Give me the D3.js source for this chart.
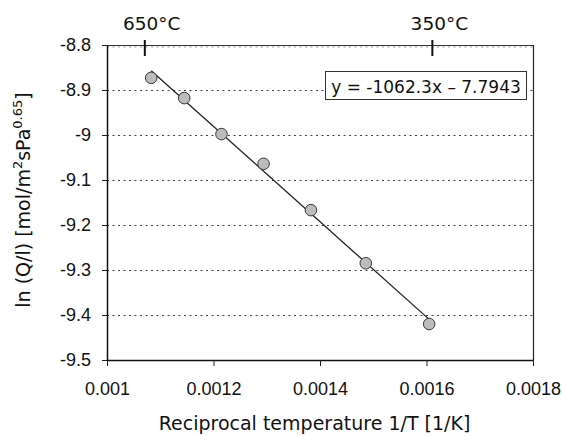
<!DOCTYPE html>
<html>
<head>
<meta charset="utf-8">
<script src="https://cdn.jsdelivr.net/npm/d3@7"></script>
<style>
  html, body { margin: 0; padding: 0; background: #fff; }
  svg { display: block; }
</style>
</head>
<body>
<svg id="chart" width="562" height="436"></svg>
<script>
// Measured permeation: reciprocal temperature vs ln(Q/l)
const reciprocalT = [0.001083, 0.001145, 0.001215, 0.001294, 0.001383, 0.001486, 0.001605];
const lnFlux = [-8.873, -8.918, -8.998, -9.064, -9.167, -9.285, -9.420];

// Axis ticks
const xTicks = [0.001, 0.0012, 0.0014, 0.0016, 0.0018];
const xTickLabels = ["0.001", "0.0012", "0.0014", "0.0016", "0.0018"];
const yTicks = [-8.8, -8.9, -9.0, -9.1, -9.2, -9.3, -9.4, -9.5];
const yTickLabels = ["-8.8", "-8.9", "-9", "-9.1", "-9.2", "-9.3", "-9.4", "-9.5"];

// Secondary temperature markers along the top edge
const tempTicks = [0.001071, 0.001611];
const tempLabels = ["650°C", "350°C"];

const equationText = "y = -1062.3x \u2013 7.7943";

const svg = d3.select("#chart");
const plot = { left: 107, right: 533, top: 45, bottom: 360 };

const x = d3.scaleLinear().domain([0.001, 0.0018]).range([plot.left, plot.right]);
const y = d3.scaleLinear().domain([-9.5, -8.8]).range([plot.bottom, plot.top]);

const sansTahoma = "'DejaVu Sans', Verdana, sans-serif";
const sansArial = "'Liberation Sans', Arial, sans-serif";

// Dotted horizontal gridlines
svg.append("g")
  .selectAll("line")
  .data(yTicks.filter(v => v > -9.5))
  .join("line")
  .attr("x1", plot.left).attr("x2", plot.right)
  .attr("y1", d => Math.round(y(d)) + 0.5 + (d === -8.8 ? 1.5 : 0))
  .attr("y2", d => Math.round(y(d)) + 0.5 + (d === -8.8 ? 1.5 : 0))
  .attr("stroke", d => d === -8.8 ? "#9a9a9a" : "#444")
  .attr("stroke-width", 1)
  .attr("stroke-dasharray", "2,3.5");

// Frame: top and right edges
svg.append("line")
  .attr("x1", plot.left).attr("x2", plot.right)
  .attr("y1", plot.top + 0.5).attr("y2", plot.top + 0.5)
  .attr("stroke", "#333").attr("stroke-width", 1);
svg.append("line")
  .attr("x1", plot.right + 0.5).attr("x2", plot.right + 0.5)
  .attr("y1", plot.top).attr("y2", plot.bottom)
  .attr("stroke", "#222").attr("stroke-width", 1.2);

// Bottom axis
const xAxis = d3.axisBottom(x)
  .tickValues(xTicks)
  .tickFormat((d, i) => xTickLabels[i])
  .tickSizeInner(6).tickSizeOuter(0).tickPadding(16);
const gx = svg.append("g")
  .attr("transform", `translate(0,${plot.bottom})`)
  .call(xAxis);
gx.select(".domain").attr("stroke", "#111").attr("stroke-width", 1.5);
gx.selectAll(".tick line").attr("stroke", "#222").attr("stroke-width", 1);
gx.selectAll(".tick text")
  .attr("font-family", sansArial).attr("font-size", 18).attr("fill", "#111");

// Left axis
const yAxis = d3.axisLeft(y)
  .tickValues(yTicks)
  .tickFormat((d, i) => yTickLabels[i])
  .tickSizeInner(5).tickSizeOuter(0).tickPadding(11);
const gy = svg.append("g")
  .attr("transform", `translate(${plot.left},0)`)
  .call(yAxis);
gy.select(".domain").attr("stroke", "#111").attr("stroke-width", 1.5);
gy.selectAll(".tick line").attr("stroke", "#222").attr("stroke-width", 1);
gy.selectAll(".tick text")
  .attr("font-family", sansArial).attr("font-size", 18).attr("fill", "#111");

// Temperature markers on the top edge
const gt = svg.append("g");
gt.selectAll("line")
  .data(tempTicks)
  .join("line")
  .attr("x1", d => x(d)).attr("x2", d => x(d))
  .attr("y1", plot.top - 5).attr("y2", plot.top + 11)
  .attr("stroke", "#111").attr("stroke-width", 2);
gt.selectAll("text")
  .data(tempTicks)
  .join("text")
  .attr("x", d => x(d) + 7)
  .attr("y", 30)
  .attr("text-anchor", "middle")
  .attr("font-family", sansTahoma).attr("font-size", 18.5).attr("fill", "#111")
  .text((d, i) => tempLabels[i]);

// Least-squares trendline over the measured range
const mx = d3.mean(reciprocalT), my = d3.mean(lnFlux);
const sxy = d3.sum(reciprocalT, (v, i) => (v - mx) * (lnFlux[i] - my));
const sxx = d3.sum(reciprocalT, v => (v - mx) * (v - mx));
const slope = sxy / sxx;
const intercept = my - slope * mx;
const xr = d3.extent(reciprocalT);
svg.append("path")
  .datum(xr.map(v => [v, slope * v + intercept]))
  .attr("d", d3.line().x(d => x(d[0])).y(d => y(d[1])))
  .attr("fill", "none")
  .attr("stroke", "#222")
  .attr("stroke-width", 1.3);

// Data points
svg.append("g")
  .selectAll("circle")
  .data(reciprocalT.map((v, i) => [v, lnFlux[i]]))
  .join("circle")
  .attr("cx", d => x(d[0]))
  .attr("cy", d => y(d[1]))
  .attr("r", 5.8)
  .attr("fill", "#bcbcbc")
  .attr("stroke", "#3a3a3a")
  .attr("stroke-width", 1);

// Regression equation box
const eq = svg.append("g");
eq.append("rect")
  .attr("x", 325.5).attr("y", 71.5)
  .attr("width", 201).attr("height", 28)
  .attr("fill", "#fff")
  .attr("stroke", "#333").attr("stroke-width", 1);
eq.append("text")
  .attr("x", 426).attr("y", 92.5)
  .attr("text-anchor", "middle")
  .attr("font-family", sansTahoma).attr("font-size", 17).attr("fill", "#111")
  .text(equationText);

// Axis titles
svg.append("text")
  .attr("x", 314.5).attr("y", 430)
  .attr("text-anchor", "middle")
  .attr("font-family", sansTahoma).attr("font-size", 19).attr("fill", "#111")
  .text("Reciprocal temperature 1/T [1/K]");

const yTitle = svg.append("text")
  .attr("transform", "translate(30,200) rotate(-90)")
  .attr("text-anchor", "middle")
  .attr("font-family", sansTahoma).attr("font-size", 19).attr("fill", "#111");
yTitle.append("tspan").text("ln (Q/l) [mol/m");
yTitle.append("tspan").attr("font-size", 13).attr("dy", -8).text("2");
yTitle.append("tspan").attr("dy", 8).text("sPa");
yTitle.append("tspan").attr("font-size", 13).attr("dy", -8).text("0.65");
yTitle.append("tspan").attr("dy", 8).text("]");
</script>
</body>
</html>
